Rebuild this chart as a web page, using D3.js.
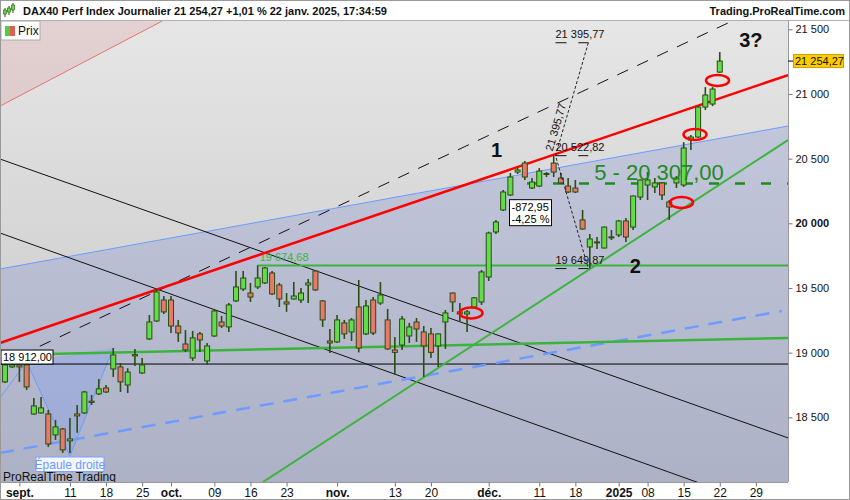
<!DOCTYPE html>
<html>
<head>
<meta charset="utf-8">
<script src="https://cdn.jsdelivr.net/npm/d3@7"></script>
<style>
body { margin: 0; background: #fff; }
svg text { font-family: "Liberation Sans", Arial, sans-serif; }
</style>
</head>
<body>
<div id="chart"></div>
<script>
// daily candles, DAX40
var dates = ["2024-08-29","2024-08-30",
  "2024-09-02","2024-09-03","2024-09-04","2024-09-05","2024-09-06",
  "2024-09-09","2024-09-10","2024-09-11","2024-09-12","2024-09-13",
  "2024-09-16","2024-09-17","2024-09-18","2024-09-19","2024-09-20",
  "2024-09-23","2024-09-24","2024-09-25","2024-09-26","2024-09-27",
  "2024-09-30","2024-10-01","2024-10-02","2024-10-03","2024-10-04",
  "2024-10-07","2024-10-08","2024-10-09","2024-10-10","2024-10-11",
  "2024-10-14","2024-10-15","2024-10-16","2024-10-17","2024-10-18",
  "2024-10-21","2024-10-22","2024-10-23","2024-10-24","2024-10-25",
  "2024-10-28","2024-10-29","2024-10-30","2024-10-31","2024-11-01",
  "2024-11-04","2024-11-05","2024-11-06","2024-11-07","2024-11-08",
  "2024-11-11","2024-11-12","2024-11-13","2024-11-14","2024-11-15",
  "2024-11-18","2024-11-19","2024-11-20","2024-11-21","2024-11-22",
  "2024-11-25","2024-11-26","2024-11-27","2024-11-28","2024-11-29",
  "2024-12-02","2024-12-03","2024-12-04","2024-12-05","2024-12-06",
  "2024-12-09","2024-12-10","2024-12-11","2024-12-12","2024-12-13",
  "2024-12-16","2024-12-17","2024-12-18","2024-12-19","2024-12-20",
  "2024-12-23","2024-12-27","2024-12-30",
  "2025-01-02","2025-01-03","2025-01-06","2025-01-07","2025-01-08",
  "2025-01-09","2025-01-10","2025-01-13","2025-01-14","2025-01-15",
  "2025-01-16","2025-01-17","2025-01-20","2025-01-21","2025-01-22"];
var futureDates = ["2025-01-23","2025-01-24","2025-01-27","2025-01-28","2025-01-29","2025-01-30","2025-01-31"];

var opens = [18774,18890, 18905,18905,18526,18534,18526, 18364,18410,18318,18526,18534,
  18625,18681,18727,18874,18890, 18750,18975,18843,19106,19245, 19407,19407,19206,19067,18959,
  19145,18936,19129,19237,19199, 19400,19492,19461,19508,19539, 19616,19523,19392,19415,19407,
  19523,19631,19400,19090,19083, 19230,19160,19353,19145,19407, 19384,19253,19021,19059,19129,
  19237,19160,19145,19052,19237, 19461,19315,19299,19353,19392, 19585,19933,20103,20219,20396,
  20466,20273,20288,20378,20466, 20350,20288,20273,20026,19817, 19850,19809,19890,
  19910,20018,19971,20203,20296, 20281,20312,20165,20312,20296, 20644,20667,20899,20922,21169];
var highs = [18930,18928, 18920,18920,18650,18658,18557, 18480,18418,18495,18596,18705,
  18673,18797,18750,19036,18920, 18880,19029,18959,19291,19492, 19438,19438,19253,19175,19168,
  19160,19075,19338,19284,19384, 19631,19631,19539,19674.68,19663, 19631,19539,19461,19546,19500,
  19570,19639,19407,19183,19291, 19253,19268,19562,19407,19430, 19546,19338,19121,19284,19230,
  19268,19206,19191,19150,19330, 19465,19384,19330,19430,19639, 19935,20026,20257,20389,20427,
  20482,20350,20427,20396,20522.82, 20389,20350,20335,20103,19917, 19894,19975,19948,
  20026,20041,20215,20340,20396, 20350,20319,20180,20365,20628, 20682,20906,21053,21053,21324];
var lows = [18766,18882, 18774,18712,18520,18530,18271, 18325,18225,18225,18380,18526,
  18596,18673,18688,18812,18696, 18688,18897,18835,19098,19237, 19299,19152,19083,19005,18936,
  19005,18905,19121,19191,19160, 19392,19477,19392,19492,19531, 19446,19353,19315,19410,19384,
  19384,19477,19199,18998,19075, 19106,19090,19002,19137,19137, 19369,19021,18828,19021,19075,
  19083,18812,18959,18890,19029, 19315,19237,19160,19345,19369, 19554,19917,20095,20211,20381,
  20335,20265,20280,20358,20358, 20305,20234,20234,19950,19649.87, 19801,19805,19871,
  19894,19856,19948,20180,20180, 20234,20180,20026,20273,20281, 20567,20659,20876,20906,21162];
var closes = [18905,18905, 18890,18735,18588,18573,18294, 18426,18248,18333,18511,18696,
  18615,18720,18696,18982,18774, 18850,18985,18905,19237,19469, 19315,19206,19152,19021,19114,
  19098,19052,19322,19206,19369, 19508,19577,19430,19577,19655, 19454,19415,19376,19438,19461,
  19539,19485,19253,19075,19253, 19145,19253,19036,19361,19152, 19446,19029,19002,19260,19199,
  19183,19052,19002,19145,19307, 19392,19299,19315,19424,19624, 19925,20010,20242,20358,20412,
  20358,20319,20404,20385,20396, 20312,20242,20242,19956,19879, 19856,19971,19895,
  20018,19894,20211,20335,20335, 20312,20219,20126,20350,20582, 20667,20899,20992,21038,21254.27];

var lastPrice = 21254.27;
var yTicks = [18500, 19000, 19500, 20000, 20500, 21000, 21500];
var xTickDates = ["2024-09-02","2024-09-11","2024-09-18","2024-09-25","2024-10-01","2024-10-09",
  "2024-10-16","2024-10-23","2024-11-01","2024-11-13","2024-11-20","2024-12-02","2024-12-11",
  "2024-12-18","2025-01-02","2025-01-08","2025-01-15","2025-01-22","2025-01-29"];
var xTickLabels = ["sept.","11","18","25","oct.","09","16","23","nov.","13","20","déc.","11",
  "18","2025","08","15","22","29"];
var xTickBold = [1,0,0,0,1,0,0,0,1,0,0,1,0,0,1,0,0,0,0];

// drawings: [day position, price]
var pinkLine = [[-0.69, 20906], [21.75, 21563]];
var blueLine = [[-0.69, 19647], [108.45, 20752]];
var redLine = [[-0.69, 19075], [108.45, 21146]];
var blackDashed = [[-0.69, 18905], [100.42, 21556]];
var channelUp = [[-0.69, 20497], [108.45, 18341]];
var channelDown = [[-0.69, 19925], [96.54, 17985]];
var greenFlat = [[-0.69, 18982], [108.45, 19114]];
var greenRising = [[35.74, 18000], [108.45, 20644]];
var blueDashed = [[-0.69, 18225], [107.6, 19322]];
var shoulder = [[-0.69, 18650], [3, 18928], [9, 18202], [15, 19036]];
var level18912 = 18912;
var level19674 = {start: 35, price: 19674.68};
var level20307 = {start: 72.3, label: 81.6, price: 20307};
var fibA = [76.25, 20522.82], fibB = [80.8, 19649.87], fibC = [80.8, 21395.77];
var circles = [[64.55, 19307], [93.7, 20161], [95.57, 20686], [98.69, 21104]];
var waveLabels = [{t: "1", p: 68.1, v: 20566}, {t: "2", p: 87.3, v: 19670}, {t: "3?", p: 103.3, v: 21416}];

var width = 850, height = 500;
var pLeft = 1, pRight = 788, pTop = 21, pBottom = 482;

var allDates = dates.concat(futureDates);
function pos(d) { return allDates.indexOf(d); }

var x = d3.scaleLinear().domain([-0.548, 108.45]).range([pLeft, pRight]);
var y = d3.scaleLinear().domain([18000, 21564]).range([pBottom, pTop]);
var fr = d3.formatLocale({decimal: ",", thousands: "\u00a0", grouping: [3], currency: ["", ""], minus: "-"});
var fmt0 = fr.format(",.0f"), fmt2 = fr.format(",.2f");

var svg = d3.select("#chart").append("svg")
    .attr("width", width)
    .attr("height", height);

var defs = svg.append("defs");
var grad = defs.append("linearGradient").attr("id", "bg").attr("x1", 0).attr("x2", 0).attr("y1", 0).attr("y2", 1);
grad.append("stop").attr("offset", "0%").attr("stop-color", "#e6e6e6");
grad.append("stop").attr("offset", "100%").attr("stop-color", "#c4c4c4");
defs.append("clipPath").attr("id", "plot").append("rect")
    .attr("x", pLeft).attr("y", pTop).attr("width", pRight - pLeft).attr("height", pBottom - pTop);

svg.append("rect").attr("width", width).attr("height", height).style("fill", "#fff");
svg.append("rect")
    .attr("x", pLeft).attr("y", pTop)
    .attr("width", pRight - pLeft).attr("height", pBottom - pTop)
    .style("fill", "url(#bg)");

var plot = svg.append("g").attr("clip-path", "url(#plot)");
var line = d3.line().x(function(d){ return x(d[0]); }).y(function(d){ return y(d[1]); });

// zones
plot.append("path")
    .attr("d", line([pinkLine[0], pinkLine[1], [-0.69, 21564]]))
    .style("fill", "rgba(220,100,100,0.16)");
plot.append("path")
    .attr("d", line([blueLine[0], blueLine[1], [108.45, 18000], [-0.69, 18000]]))
    .style("fill", "rgba(80,105,210,0.2)");
plot.append("path").attr("d", line(pinkLine))
    .style("fill", "none").style("stroke", "#e87272").style("stroke-width", 1);
plot.append("path").attr("d", line(blueLine))
    .style("fill", "none").style("stroke", "#6d9bff").style("stroke-width", 1);

// shoulder pattern
plot.append("path").attr("d", line(shoulder.slice(1)) + "Z")
    .style("fill", "rgba(110,150,255,0.25)").style("stroke", "none");
plot.append("path").attr("d", line(shoulder))
    .style("fill", "none").style("stroke", "#6d9bff").style("stroke-width", 1);

plot.append("line")
    .attr("x1", pLeft).attr("x2", pRight)
    .attr("y1", y(level18912)).attr("y2", y(level18912))
    .style("stroke", "#000").style("stroke-width", 1);

plot.append("path").attr("d", line(channelUp))
    .style("fill", "none").style("stroke", "#111").style("stroke-width", 1);
plot.append("path").attr("d", line(channelDown))
    .style("fill", "none").style("stroke", "#111").style("stroke-width", 1);
plot.append("path").attr("d", line(blackDashed))
    .style("fill", "none").style("stroke", "#111").style("stroke-width", 1)
    .style("stroke-dasharray", "12,10");
plot.append("path").attr("d", line(blueDashed))
    .style("fill", "none").style("stroke", "#6d9bff").style("stroke-width", 2.5)
    .style("stroke-dasharray", "14,10");
plot.append("path").attr("d", line(greenFlat))
    .style("fill", "none").style("stroke", "#3cb43c").style("stroke-width", 2.5);
plot.append("path").attr("d", line(greenRising))
    .style("fill", "none").style("stroke", "#3cb43c").style("stroke-width", 2);
plot.append("line")
    .attr("x1", x(level19674.start)).attr("x2", pRight)
    .attr("y1", y(level19674.price)).attr("y2", y(level19674.price))
    .style("stroke", "#3cb43c").style("stroke-width", 2);
plot.append("text")
    .attr("x", x(level19674.start) + 2).attr("y", y(level19674.price) - 4)
    .style("font-size", "11px").style("fill", "#3cb43c")
    .text(fmt2(level19674.price));
plot.append("line")
    .attr("x1", x(level20307.start)).attr("x2", pRight)
    .attr("y1", y(level20307.price)).attr("y2", y(level20307.price))
    .style("stroke", "#1f8a1f").style("stroke-width", 2.5)
    .style("stroke-dasharray", "10,16");
plot.append("path").attr("d", line(redLine))
    .style("fill", "none").style("stroke", "#ff0000").style("stroke-width", 2.5);

// candles
var wick = "#2c4d12";
for (var i = 0; i < dates.length; i++) {
    var cx = x(pos(dates[i]));
    var up = closes[i] >= opens[i];
    plot.append("line")
        .attr("x1", cx).attr("x2", cx)
        .attr("y1", y(highs[i])).attr("y2", y(lows[i]))
        .style("stroke", wick).style("stroke-width", 1.6);
    var yt = y(Math.max(opens[i], closes[i])), yb = y(Math.min(opens[i], closes[i]));
    plot.append("rect")
        .attr("x", cx - 2.5).attr("y", yt)
        .attr("width", 5).attr("height", Math.max(1, yb - yt))
        .style("fill", up ? "#62dc4a" : "#e8786a")
        .style("stroke", wick).style("stroke-width", 1);
}

// fibonacci projection
plot.append("path").attr("d", line([fibC, fibA, fibB]))
    .style("fill", "none").style("stroke", "#222").style("stroke-width", 1)
    .style("stroke-dasharray", "3,2");
[fibC, fibA, fibB].forEach(function(p) {
    var yy = y(p[1]);
    plot.append("line").attr("x1", x(fibA[0])).attr("x2", x(fibA[0]) + 11)
        .attr("y1", yy).attr("y2", yy).style("stroke", "#111");
    plot.append("line").attr("x1", x(fibB[0]) - 10).attr("x2", x(fibB[0]))
        .attr("y1", yy).attr("y2", yy).style("stroke", "#111");
    plot.append("text").attr("x", x(fibA[0])).attr("y", yy - 5)
        .style("font-size", "11px").style("fill", "#111")
        .text(fmt2(p[1]));
});
var ang = Math.atan2(y(fibC[1]) - y(fibA[1]), x(fibC[0]) - x(fibA[0])) * 180 / Math.PI;
plot.append("text")
    .attr("transform", "translate(" + (x(fibA[0]) - 3) + "," + (y(fibA[1]) - 4) + ") rotate(" + ang + ")")
    .style("font-size", "11px").style("fill", "#111")
    .text(fmt2(fibC[1]));
var bx = x(fibA[0]) - 46, by = y(fibA[1]) + 44;
plot.append("rect").attr("x", bx).attr("y", by).attr("width", 42).attr("height", 26)
    .style("fill", "#fff").style("stroke", "#000");
plot.append("text").attr("x", bx + 2).attr("y", by + 11).style("font-size", "11px")
    .text(fmt2(fibB[1] - fibA[1]));
plot.append("text").attr("x", bx + 2).attr("y", by + 23).style("font-size", "11px")
    .text(fmt2((fibB[1] - fibA[1]) / fibA[1] * 100) + " %");

// target label
plot.append("text")
    .attr("x", x(level20307.label)).attr("y", y(level20307.price) - 4)
    .style("font-size", "22px").style("fill", "#1f8a1f")
    .text("5 - " + fmt2(level20307.price));

circles.forEach(function(c) {
    plot.append("ellipse").attr("cx", x(c[0])).attr("cy", y(c[1]))
        .attr("rx", 11.5).attr("ry", 5.5)
        .style("fill", "none").style("stroke", "#ff0000").style("stroke-width", 2.5);
});

waveLabels.forEach(function(w) {
    plot.append("text").attr("x", x(w.p)).attr("y", y(w.v) + 7)
        .attr("text-anchor", "middle")
        .style("font-size", "20px").style("font-weight", "bold").style("fill", "#111")
        .text(w.t);
});

// shoulder label
var sx = x(shoulder[2][0]);
plot.append("text").attr("x", 3).attr("y", 481)
    .style("font-size", "12px").style("fill", "#111").text("ProRealTime Trading");
plot.append("rect").attr("x", sx - 34).attr("y", 457).attr("width", 68).attr("height", 14.5)
    .style("fill", "#f4f6ff").style("stroke", "#7aa2ff");
plot.append("text").attr("x", sx).attr("y", 468.5).attr("text-anchor", "middle")
    .style("font-size", "12px").style("fill", "#6d9bff").text("Épaule droite");

// level box 18 912
svg.append("rect").attr("x", 1).attr("y", y(level18912) - 14).attr("width", 52).attr("height", 14)
    .style("fill", "#fff").style("stroke", "#000");
svg.append("text").attr("x", 3).attr("y", y(level18912) - 3)
    .style("font-size", "11px").text(fmt2(level18912));

// axes
svg.append("line").attr("x1", pRight + 0.5).attr("x2", pRight + 0.5).attr("y1", pTop).attr("y2", pBottom)
    .style("stroke", "#999");
svg.append("line").attr("x1", pLeft).attr("x2", pRight).attr("y1", pBottom + 0.5).attr("y2", pBottom + 0.5)
    .style("stroke", "#999");

var yAxis = svg.append("g")
    .attr("transform", "translate(" + (pRight + 0.5) + ",0)")
    .call(d3.axisRight(y).tickValues(yTicks).tickSize(4).tickPadding(3).tickFormat(fmt0));
yAxis.select(".domain").remove();
yAxis.selectAll("line").style("stroke", "#777");
yAxis.selectAll("text").style("font-size", "11px").style("fill", "#111")
    .style("font-family", "'Liberation Sans', Arial, sans-serif")
    .style("font-weight", function(d){ return d === 20000 ? "bold" : "normal"; });

var ly = y(lastPrice);
svg.append("line").attr("x1", pRight).attr("x2", pRight + 5).attr("y1", ly).attr("y2", ly).style("stroke", "#000");
svg.append("rect").attr("x", pRight + 5.5).attr("y", ly - 6.5).attr("width", 50).attr("height", 13)
    .style("fill", "#ffcc00").style("stroke", "#c9a200");
svg.append("text").attr("x", pRight + 7).attr("y", ly + 4)
    .style("font-size", "11px").style("fill", "#111").text(fmt2(lastPrice));

var xAxis = svg.append("g")
    .attr("transform", "translate(0," + (pBottom + 0.5) + ")")
    .call(d3.axisBottom(x).tickValues(xTickDates.map(pos)).tickSize(4).tickPadding(2)
        .tickFormat(function(d, i){ return xTickLabels[i]; }));
xAxis.select(".domain").remove();
xAxis.selectAll("line").style("stroke", "#777");
xAxis.selectAll("text").style("font-size", "12px").style("fill", "#111")
    .style("font-family", "'Liberation Sans', Arial, sans-serif")
    .style("font-weight", function(d, i){ return xTickBold[i] ? "bold" : "normal"; });

// header
svg.append("line").attr("x1", 0).attr("x2", width).attr("y1", 20.5).attr("y2", 20.5).style("stroke", "#b0b0b0");
[[5, 8, 14], [9, 6, 12], [13, 3, 10]].forEach(function(c) {
    svg.append("line").attr("x1", c[0]).attr("x2", c[0]).attr("y1", c[1]).attr("y2", c[2] + 3)
        .style("stroke", wick);
    svg.append("rect").attr("x", c[0] - 1.5).attr("y", c[1] + 2).attr("width", 3).attr("height", c[2] - c[1] - 2)
        .style("fill", "#62dc4a").style("stroke", wick).style("stroke-width", 0.6);
});
svg.append("text").attr("x", 23).attr("y", 15)
    .style("font-size", "11px").style("font-weight", "bold").style("fill", "#111")
    .text("DAX40 Perf Index Journalier 21 254,27 +1,01 % 22 janv. 2025, 17:34:59");
svg.append("text").attr("x", 845).attr("y", 15).attr("text-anchor", "end")
    .style("font-size", "11px").style("font-weight", "bold").style("fill", "#111")
    .text("Trading.ProRealTime.com");

// legend
svg.append("rect").attr("x", 1).attr("y", 21).attr("width", 39).attr("height", 19)
    .style("fill", "#fff").style("stroke", "#aaa");
svg.append("rect").attr("x", 5).attr("y", 26).attr("width", 5).attr("height", 10).style("fill", "#55cc44");
svg.append("rect").attr("x", 10).attr("y", 26).attr("width", 5).attr("height", 10).style("fill", "#e06050");
svg.append("text").attr("x", 18).attr("y", 35).style("font-size", "12px").style("fill", "#111").text("Prix");

svg.append("rect").attr("x", 0.5).attr("y", 0.5).attr("width", width - 1).attr("height", height - 1)
    .style("fill", "none").style("stroke", "#999");
</script>
</body>
</html>
